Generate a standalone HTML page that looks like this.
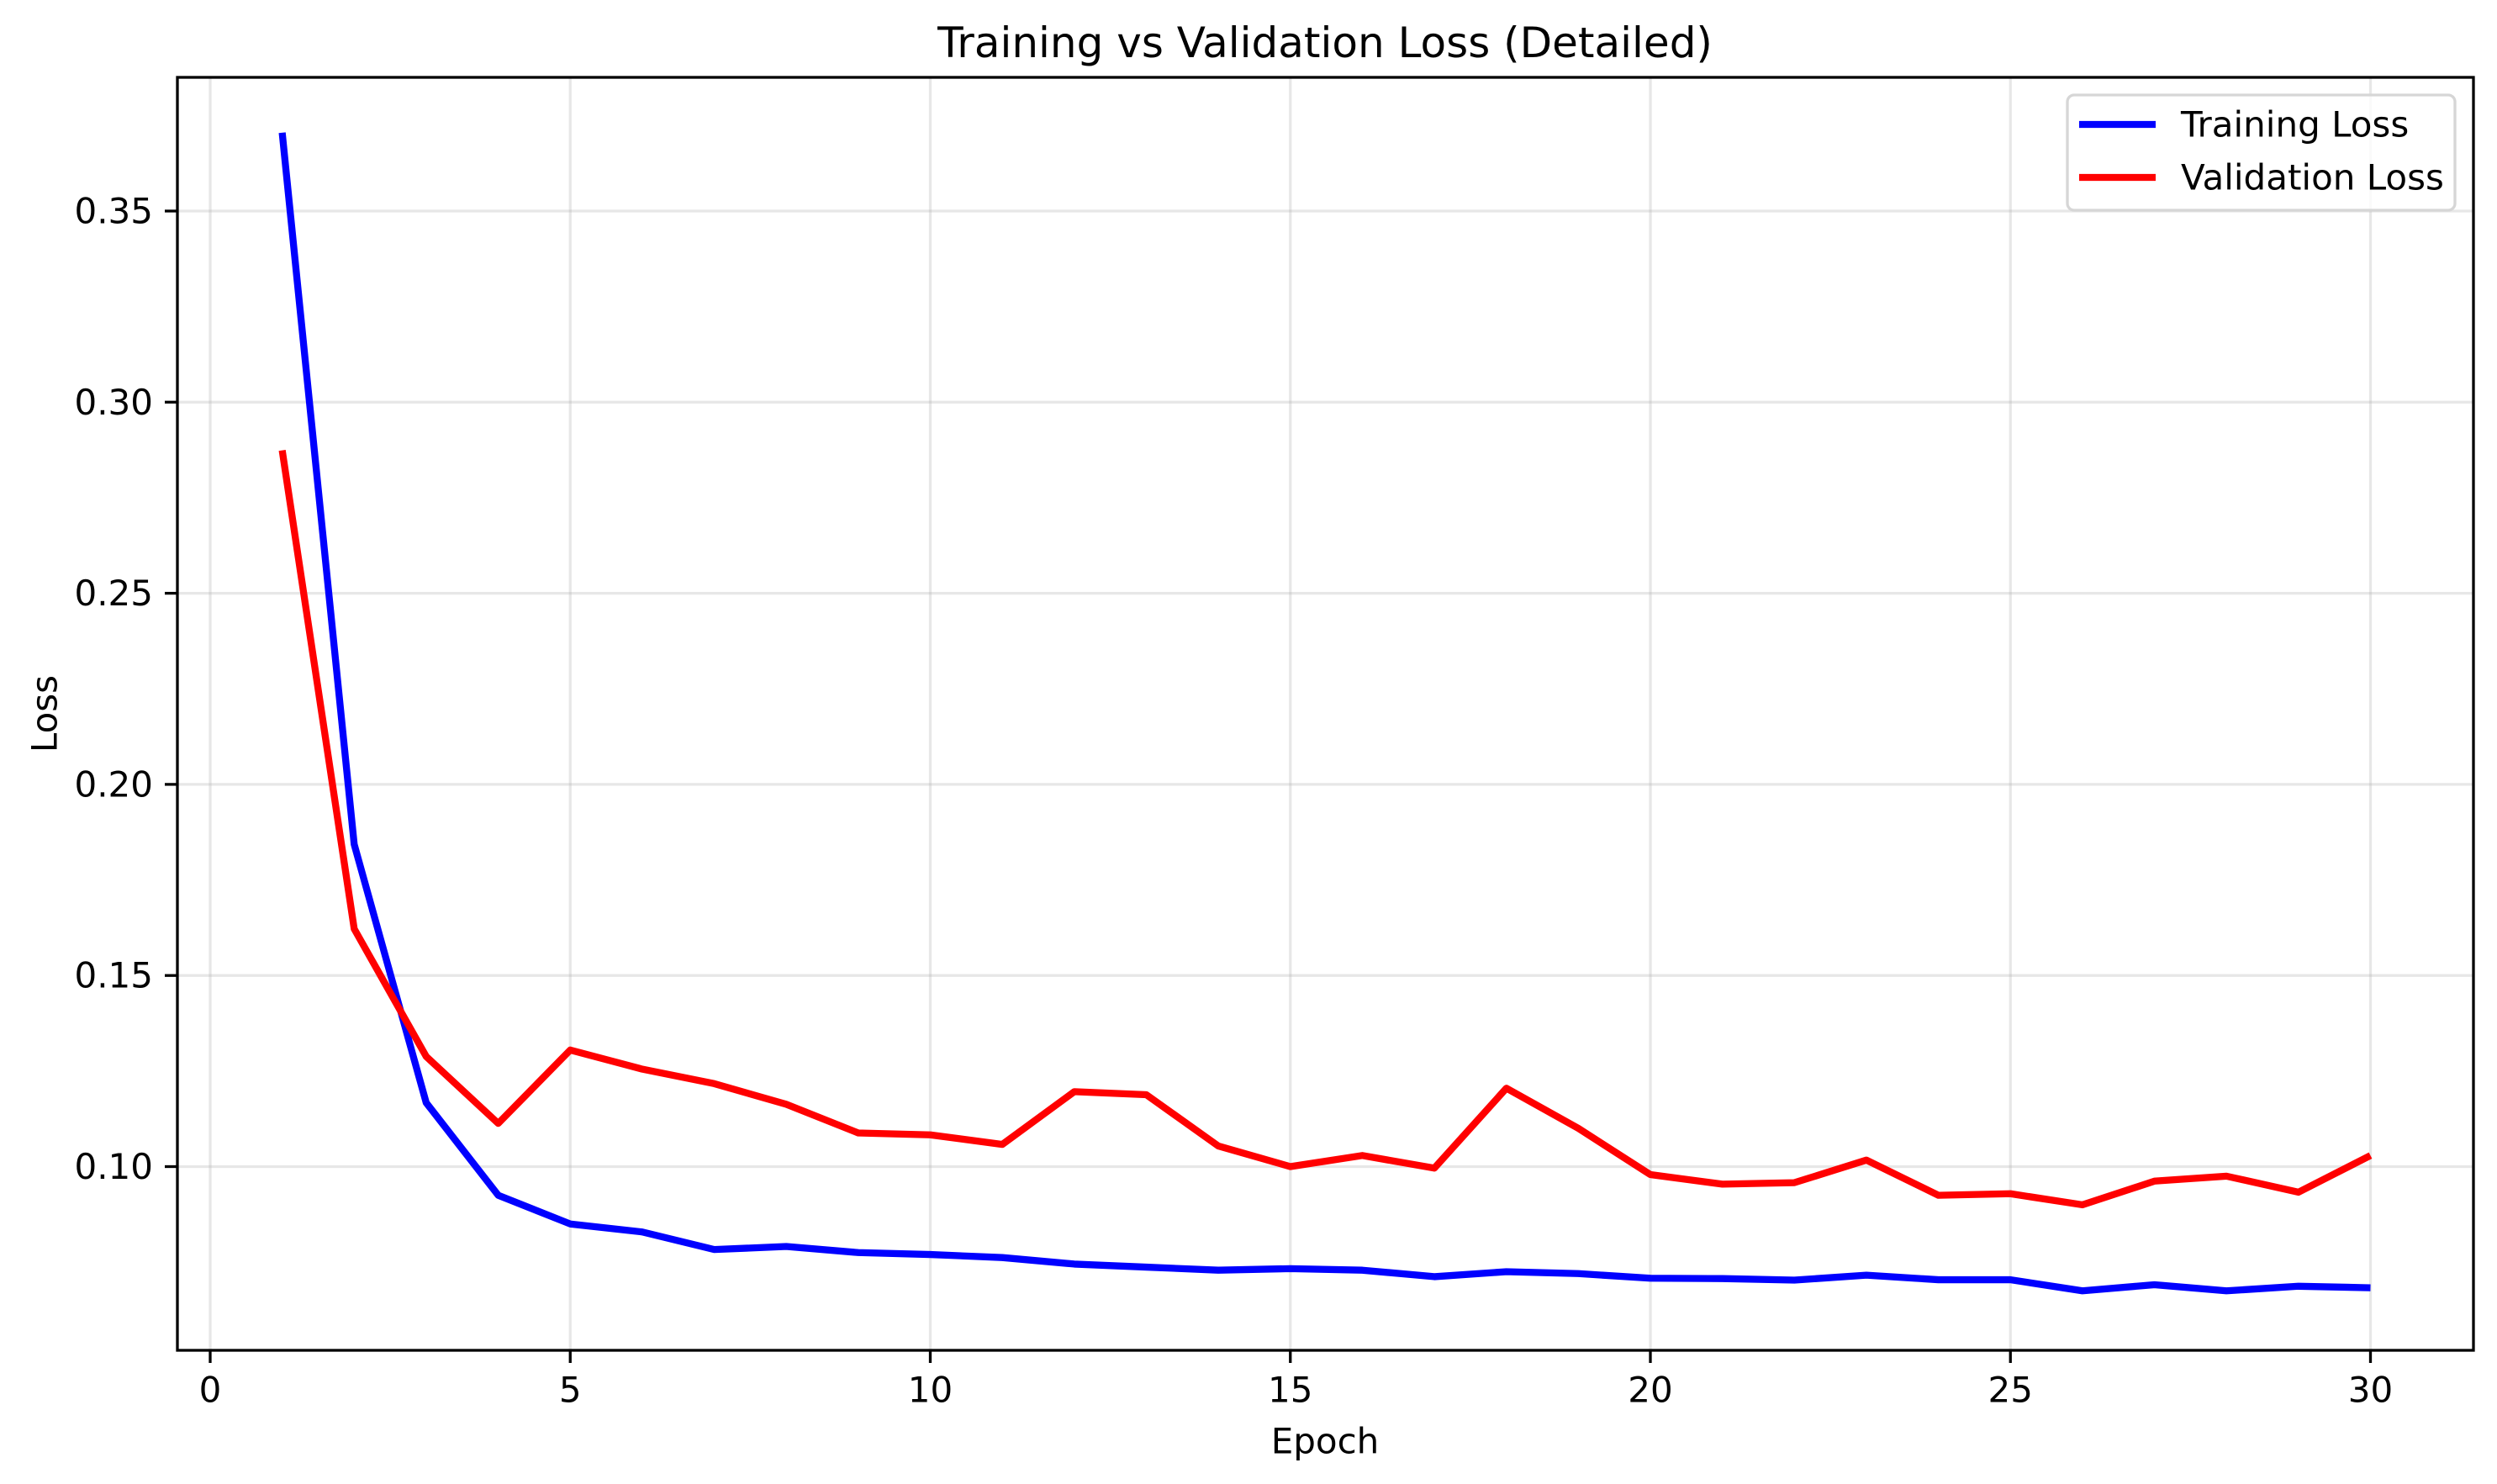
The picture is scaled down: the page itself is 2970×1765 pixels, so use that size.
<!DOCTYPE html>
<html><head><meta charset="utf-8"><style>
body{margin:0;background:#fff}
svg{display:block;font-family:"DejaVu Sans","Liberation Sans",sans-serif}
</style></head><body>
<svg id="chart" width="2970" height="1765" viewBox="0 0 2970 1765">
<rect width="2970" height="1765" fill="#fff"/>
<g id="grid"></g>
<g id="series"></g>
<rect x="211" y="92" width="2731" height="1514" fill="none" stroke="#000" stroke-width="3.3"/>
<g id="axes"></g>
<text x="1576" y="51" font-size="50" text-anchor="middle" dominant-baseline="central">Training vs Validation Loss (Detailed)</text>
<text x="1576" y="1714" font-size="42" text-anchor="middle" dominant-baseline="central">Epoch</text>
<text x="53" y="849" font-size="42" text-anchor="middle" dominant-baseline="central" transform="rotate(-90 53 849)">Loss</text>
<g>
<rect x="2459" y="113" width="461" height="137" rx="8" fill="#fff" fill-opacity="0.8" stroke="#d6d6d6" stroke-width="3.3"/>
<line x1="2473" y1="148" x2="2564" y2="148" stroke="#0000ff" stroke-width="8.3"/>
<text x="2594" y="148" font-size="42" dominant-baseline="central">Training Loss</text>
<line x1="2473" y1="211" x2="2564" y2="211" stroke="#ff0000" stroke-width="8.3"/>
<text x="2594" y="211" font-size="42" dominant-baseline="central">Validation Loss</text>
</g>
</svg>
<script>
const epochs=[1,2,3,4,5,6,7,8,9,10,11,12,13,14,15,16,17,18,19,20,21,22,23,24,25,26,27,28,29,30];
const trainLoss=[0.3705,0.1843,0.1167,0.0925,0.085,0.0829,0.0783,0.0791,0.0775,0.077,0.0762,0.0745,0.0737,0.0729,0.0733,0.0729,0.0712,0.0725,0.072,0.0708,0.0707,0.0703,0.0716,0.0704,0.0704,0.0675,0.0691,0.0675,0.0687,0.0683];
const valLoss=[0.2874,0.1622,0.1288,0.1113,0.1305,0.1255,0.1217,0.1163,0.1088,0.1083,0.1058,0.1196,0.1188,0.1054,0.1,0.1029,0.0996,0.1205,0.11,0.0979,0.0954,0.0958,0.1017,0.0925,0.0929,0.09,0.0962,0.0975,0.0933,0.1029];
const xTicks=[0,5,10,15,20,25,30];
const yTicks=[0.10,0.15,0.20,0.25,0.30,0.35];
const yTickLabels=["0.10","0.15","0.20","0.25","0.30","0.35"];
const NS="http://www.w3.org/2000/svg";
function xs(v){return 250+v*85.65;}
function ys(v){return 251+(0.35-v)/0.05*227.3;}
const grid=document.getElementById('grid'),axes=document.getElementById('axes'),series=document.getElementById('series');
function mk(tag,attrs,parent){const e=document.createElementNS(NS,tag);for(const k in attrs)e.setAttribute(k,attrs[k]);parent.appendChild(e);return e;}
xTicks.forEach(t=>{
 const g=mk('line',{x1:xs(t),x2:xs(t),y1:92,y2:1606,stroke:'#b0b0b0','stroke-opacity':0.3,'stroke-width':3.3},grid);
 
 
 const tk=mk('line',{x1:xs(t),x2:xs(t),y1:1606,y2:1621,stroke:'#000','stroke-width':3.3},axes);
 
 
 const tx=mk('text',{x:xs(t),y:1653,'font-size':42,'text-anchor':'middle','dominant-baseline':'central'},axes);
 tx.textContent=String(t);
 
 
});
yTicks.forEach((t,i)=>{
 const g=mk('line',{x1:211,x2:2942,y1:ys(t),y2:ys(t),stroke:'#b0b0b0','stroke-opacity':0.3,'stroke-width':3.3},grid);
 
 
 const tk=mk('line',{x1:196,x2:211,y1:ys(t),y2:ys(t),stroke:'#000','stroke-width':3.3},axes);
 
 
 const tx=mk('text',{x:182,y:ys(t),'font-size':42,'text-anchor':'end','dominant-baseline':'central'},axes);
 tx.textContent=yTickLabels[i];
 
 
});
function line(vals,color,name){
 const p=mk('polyline',{points:vals.map((v,i)=>xs(epochs[i])+','+ys(v)).join(' '),fill:'none',stroke:color,'stroke-width':8.3,'stroke-linejoin':'round'},series);
 
 
}
line(trainLoss,'#0000ff','training-loss-line');
line(valLoss,'#ff0000','validation-loss-line');
</script>
</body></html>
